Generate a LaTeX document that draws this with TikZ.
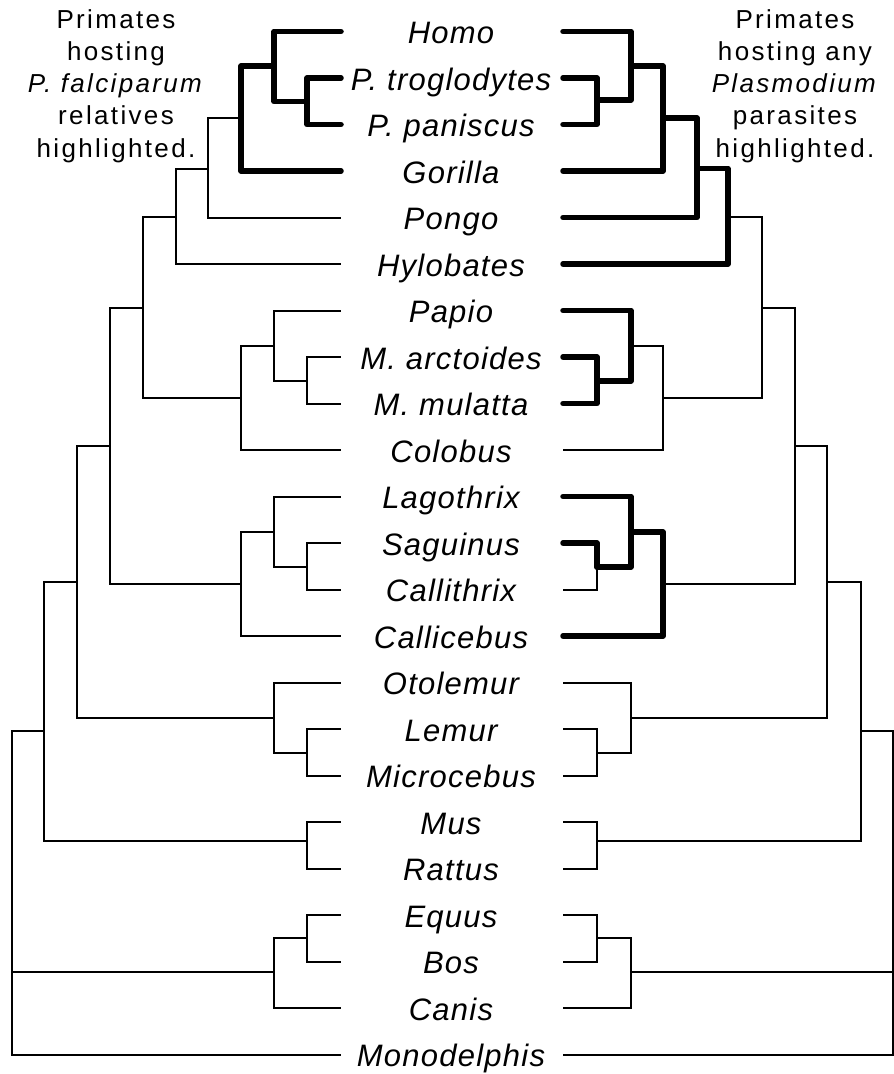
\documentclass[tikz,border=0pt]{standalone}
\usepackage{fontspec}
\setmainfont{Liberation Sans}
\newfontfamily\spfont[LetterSpace=4]{Liberation Sans}
\newfontfamily\hdfont[LetterSpace=9]{Liberation Sans}
\begin{document}
\begin{tikzpicture}[x=1pt,y=-1pt,
  br/.style={line width=2pt},
  hb/.style={line width=5.5pt, line cap=round, line join=round},
  sp/.style={anchor=base, inner sep=0pt, font=\spfont\fontsize{31}{36}\selectfont\itshape},
  hd/.style={anchor=north, inner sep=0pt, align=center, font=\hdfont\fontsize{26}{32.3}\selectfont}]
\fill[white] (0,0) rectangle (894,1074);
\useasboundingbox (0,0) rectangle (894,1074);
% leaves
\foreach \i/\nm in {0/Homo,1/P. troglodytes,2/P. paniscus,3/Gorilla,4/Pongo,5/Hylobates,6/Papio,7/M. arctoides,8/M. mulatta,9/Colobus,10/Lagothrix,11/Saguinus,12/Callithrix,13/Callicebus,14/Otolemur,15/Lemur,16/Microcebus,17/Mus,18/Rattus,19/Equus,20/Bos,21/Canis,22/Monodelphis}{
  \pgfmathsetmacro\yy{31.5+46.5*\i}
  \coordinate (l\i) at (341,\yy);
  \coordinate (r\i) at (563,\yy);
  \node[sp] (t\i) at (451,\yy+12) {\nm};
}
% left internal nodes
\coordinate (A1) at (307,101.5);
\coordinate (A2) at (274,66);
\coordinate (A3) at (241,118);
\coordinate (A4) at (208,168.5);
\coordinate (A5) at (175.5,216.5);
\coordinate (B1) at (307,381);
\coordinate (B2) at (274,346);
\coordinate (B3) at (241,398);
\coordinate (C1) at (143,307.5);
\coordinate (D1) at (307,567);
\coordinate (D2) at (274,532);
\coordinate (D3) at (241,584);
\coordinate (E1) at (110,445.5);
\coordinate (F1) at (307,753);
\coordinate (F2) at (274,718);
\coordinate (G1) at (77,582);
\coordinate (H1) at (307,841);
\coordinate (I1) at (44,731);
\coordinate (J1) at (307,938);
\coordinate (J2) at (274,972);
\coordinate (R) at (12,972);
% right internal nodes
\coordinate (rA1) at (597,100);
\coordinate (rA2) at (631,66);
\coordinate (rA3) at (663,118);
\coordinate (rA4) at (697,168.5);
\coordinate (rA5) at (728,216.5);
\coordinate (rB1) at (597,381);
\coordinate (rB2) at (631,346);
\coordinate (rB3) at (663,398);
\coordinate (rC1) at (762,307.5);
\coordinate (rD1) at (597,567);
\coordinate (rD2) at (631,532);
\coordinate (rD3) at (663,584);
\coordinate (rE1) at (795,445.5);
\coordinate (rF1) at (597,753);
\coordinate (rF2) at (631,718);
\coordinate (rG1) at (827,582);
\coordinate (rH1) at (597,841);
\coordinate (rI1) at (861,731);
\coordinate (rJ1) at (597,938);
\coordinate (rJ2) at (631,972);
\coordinate (rR) at (893,972);
% left thin edges
\foreach \p/\c in {A4/A3,A4/l4,A5/A4,A5/l5,C1/A5,B1/l7,B1/l8,B2/l6,B2/B1,B3/B2,B3/l9,C1/B3,
  E1/C1,E1/D3,D3/D2,D3/l13,D2/l10,D2/D1,D1/l11,D1/l12,G1/E1,G1/F2,F2/l14,F2/F1,F1/l15,F1/l16,
  I1/G1,I1/H1,H1/l17,H1/l18,R/I1,R/J2,R/l22,J2/J1,J2/l21,J1/l19,J1/l20}
  \draw[br] (\p) |- (\c);
% right thin edges
\foreach \p/\c in {rC1/rA5,rC1/rB3,rB3/rB2,rB3/r9,rD1/r12,rE1/rC1,rE1/rD3,rG1/rE1,rG1/rF2,
  rF2/r14,rF2/rF1,rF1/r15,rF1/r16,rI1/rG1,rI1/rH1,rH1/r17,rH1/r18,rR/rI1,rR/rJ2,rR/r22,
  rJ2/rJ1,rJ2/r21,rJ1/r19,rJ1/r20}
  \draw[br] (\p) |- (\c);
% heavy edges
\foreach \p/\c in {A1/l1,A1/l2,A2/l0,A2/A1,A3/A2,A3/l3,
  rA1/r1,rA1/r2,rA2/r0,rA2/rA1,rA3/rA2,rA3/r3,rA4/rA3,rA4/r4,rA5/rA4,rA5/r5,
  rB1/r7,rB1/r8,rB2/r6,rB2/rB1,rD1/r11,rD2/r10,rD2/rD1,rD3/rD2,rD3/r13}
  \draw[hb] (\p) |- (\c);
% headers
\node[hd] (hl) at (116,9) {Primates\\hosting\\\textit{P. falciparum}\\relatives\\highlighted.};
\node[hd] (hr) at (795,9) {Primates\\hosting any\\\textit{Plasmodium}\\parasites\\highlighted.};
\end{tikzpicture}
\end{document}
